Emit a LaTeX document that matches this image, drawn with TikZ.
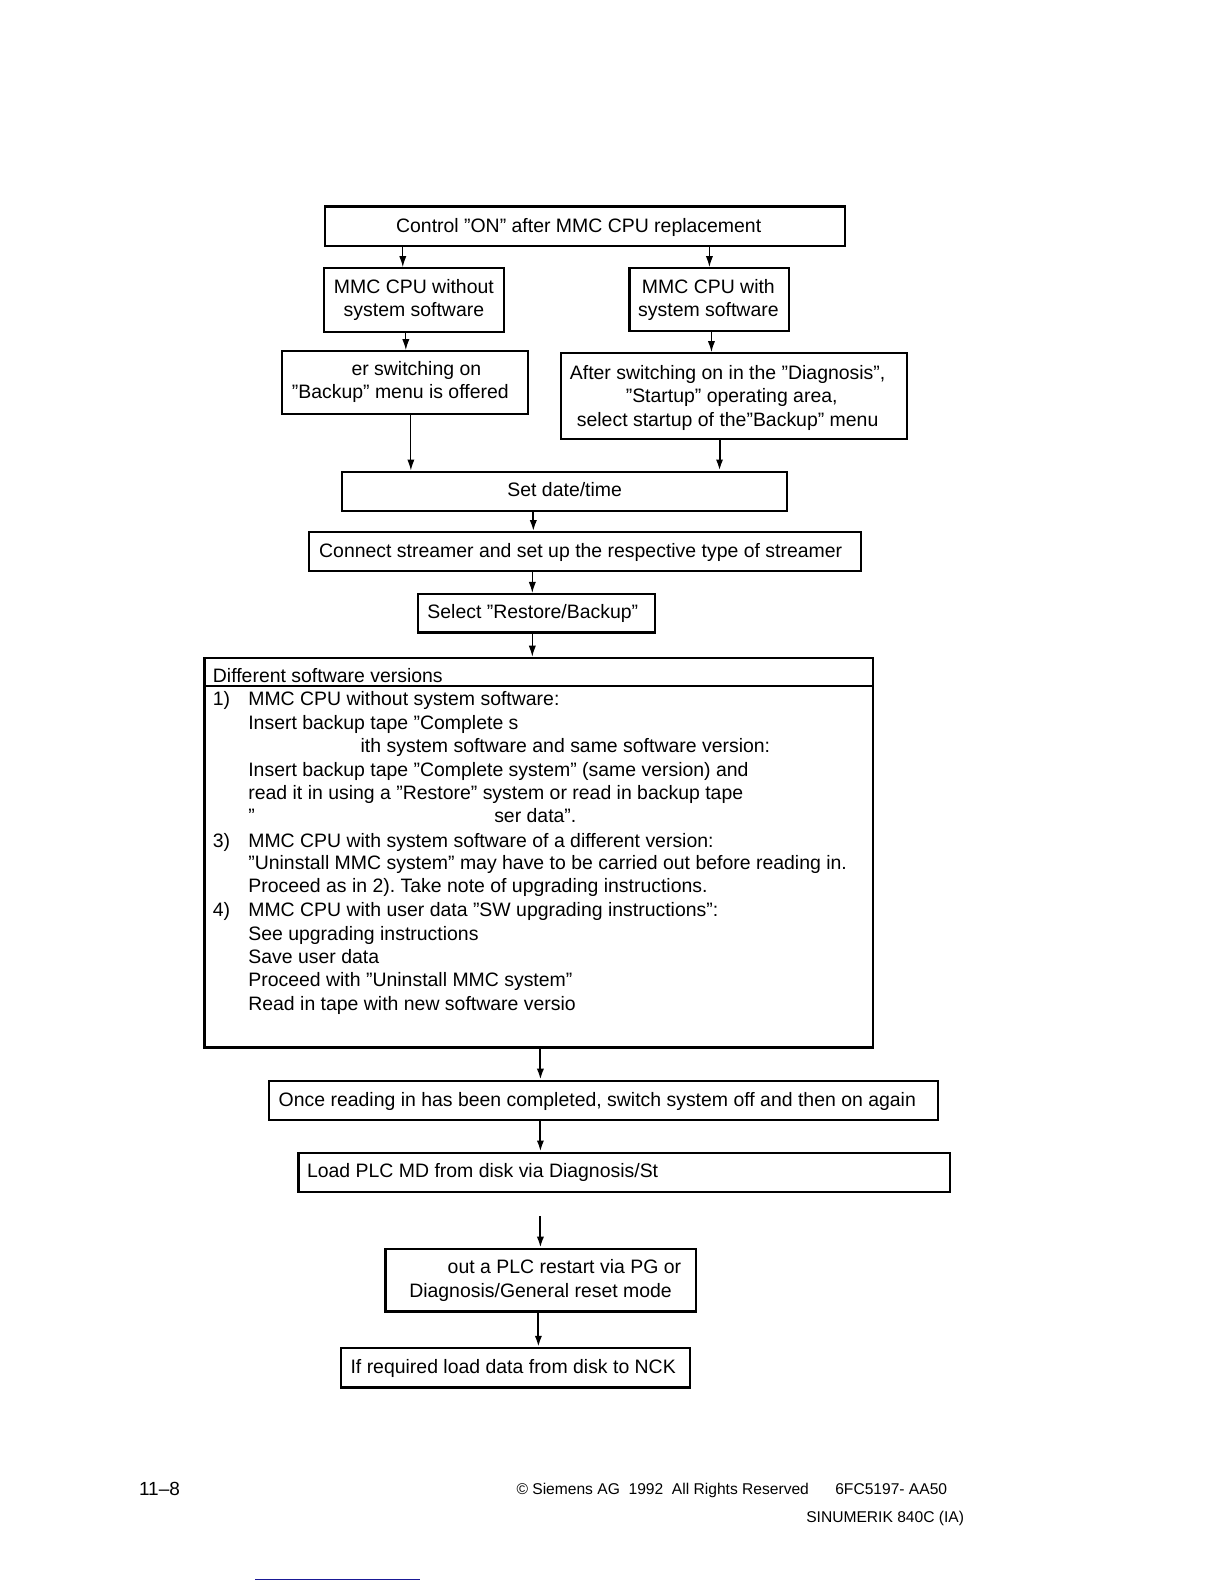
\documentclass[tikz,border=0pt]{standalone}
\usepackage{fontspec}
\setmainfont{Liberation Sans}
\usetikzlibrary{arrows.meta,fit}
\frenchspacing
\begin{document}
\begin{tikzpicture}[x=0.506pt,y=-0.506pt,
  box/.style={draw, line width=1.1pt, inner sep=0pt, rectangle},
  txt/.style={anchor=base west, inner sep=0pt, font=\fontsize{9.72}{11.6}\selectfont},
  ctxt/.style={anchor=base, inner sep=0pt, font=\fontsize{9.72}{11.6}\selectfont},
  foot/.style={anchor=base west, inner sep=0pt, font=\fontsize{7.8}{9}\selectfont},
  arr/.style={line width=0.6pt, -{Latex[length=5.5pt,width=3.6pt]}},
  arrb/.style={line width=1pt, -{Latex[length=5.5pt,width=3.6pt]}}]
\useasboundingbox (0,0) rectangle (1209.5,1565.2);
\fill[white] (0,0) rectangle (1209.5,1565.2);

% boxes
\node[box, fit={(321,204) (835,243)}] (b1) {};
\node[box, fit={(320,265) (498,328)}] (b2) {};
\node[box, fit={(622,265) (780,327)}] (b3) {};
\node[box, fit={(279,347) (522,409)}] (b4) {};
\node[box, fit={(554,349) (896,434)}] (b5) {};
\node[box, fit={(338,466) (778,505)}] (b6) {};
\node[box, fit={(305,526) (851,564)}] (b7) {};
\node[box, fit={(413,587) (647,625)}] (b8) {};
\node[box, fit={(202,650) (863,1035)}] (b9) {};
\node[box, fit={(266,1068) (927,1107)}] (b10) {};
\node[box, fit={(295,1139) (939,1178)}] (b11) {};
\node[box, fit={(381,1234) (688,1296)}] (b12) {};
\node[box, fit={(337,1332) (682,1371)}] (b13) {};
\coordinate (hl) at (0,678);
\draw[line width=1.1pt] (b9.west |- hl) -- (b9.east |- hl);

% texts
\node[txt] (t1) at (391,230) {Control ”ON” after MMC CPU replacement};
\node[ctxt] (t2a) at (409,290) {MMC CPU without};
\node[ctxt] (t2b) at (409,313) {system software};
\node[ctxt] (t3a) at (700,290) {MMC CPU with};
\node[ctxt] (t3b) at (700,313) {system software};
\node[txt] (t4a) at (347,371) {er switching on};
\node[txt] (t4b) at (288,394) {”Backup” menu is offered};
\node[ctxt] (t5a) at (719,375) {After switching on in the ”Diagnosis”,};
\node[ctxt] (t5b) at (723,398) {”Startup” operating area,};
\node[ctxt] (t5c) at (719,421) {select startup of the”Backup” menu};
\node[ctxt] (t6) at (558,491) {Set date/time};
\node[txt] (t7) at (315,551) {Connect streamer and set up the respective type of streamer};
\node[txt] (t8) at (422,611) {Select ”Restore/Backup”};
\node[txt] (t9h) at (210,674) {Different software versions};
\node[txt] (n1) at (210,697) {1)};
\node[txt] (l1) at (245,697) {MMC CPU without system software:};
\node[txt] (l2) at (245,721) {Insert backup tape ”Complete s};
\node[txt] (l3) at (356,744) {ith system software and same software version:};
\node[txt] (l4) at (245,767) {Insert backup tape ”Complete system” (same version) and};
\node[txt] (l5) at (245,790) {read it in using a ”Restore” system or read in backup tape};
\node[txt] (l6a) at (245,813) {”};
\node[txt] (l6b) at (488,813) {ser data”.};
\node[txt] (n3) at (210,837) {3)};
\node[txt] (l7) at (245,837) {MMC CPU with system software of a different version:};
\node[txt] (l8) at (245,859) {”Uninstall MMC system” may have to be carried out before reading in.};
\node[txt] (l9) at (245,882) {Proceed as in 2). Take note of upgrading instructions.};
\node[txt] (n4) at (210,906) {4)};
\node[txt] (l10) at (245,906) {MMC CPU with user data ”SW upgrading instructions”:};
\node[txt] (l11) at (245,929) {See upgrading instructions};
\node[txt] (l12) at (245,952) {Save user data};
\node[txt] (l13) at (245,975) {Proceed with ”Uninstall MMC system”};
\node[txt] (l14) at (245,998) {Read in tape with new software versio};
\node[txt] (t10) at (275,1093) {Once reading in has been completed, switch system off and then on again};
\node[txt] (t11) at (303,1164) {Load PLC MD from disk via Diagnosis/St};
\node[txt] (t12a) at (442,1258) {out a PLC restart via PG or};
\node[txt] (t12b) at (404,1282) {Diagnosis/General reset mode};
\node[txt] (t13) at (346,1357) {If required load data from disk to NCK};

% connectors
\draw[arr] (398,0 |- b1.south) -- (398,0 |- b2.north);
\draw[arr] (701,0 |- b1.south) -- (701,0 |- b3.north);
\draw[arr] (401,0 |- b2.south) -- (401,0 |- b4.north);
\draw[arr] (703,0 |- b3.south) -- (703,0 |- b5.north);
\draw[arr] (406,0 |- b4.south) -- (406,0 |- b6.north);
\draw[arrb] (711,0 |- b5.south) -- (711,0 |- b6.north);
\draw[arrb] (527,0 |- b6.south) -- (527,0 |- b7.north);
\draw[arr] (526,0 |- b7.south) -- (526,0 |- b8.north);
\draw[arr] (526,0 |- b8.south) -- (526,0 |- b9.north);
\draw[arrb] (534,0 |- b9.south) -- (534,0 |- b10.north);
\draw[arrb] (534,0 |- b10.south) -- (534,0 |- b11.north);
\coordinate (fs) at (534,1202);
\draw[arrb] (fs) -- (534,0 |- b12.north);
\draw[arrb] (532,0 |- b12.south) -- (532,0 |- b13.north);

% footer
\node[anchor=base west, inner sep=0pt, font=\fontsize{9.5}{11}\selectfont] (pg) at (137,1478) {11–8};
\node[foot] (cp) at (510,1477) {© Siemens AG\ \ 1992\ \ All Rights Reserved};
\node[foot] (id) at (825,1477) {6FC5197- AA50};
\node[foot, anchor=base east] (sn) at (953,1504) {SINUMERIK 840C (IA)};
\definecolor{linkblue}{RGB}{25,25,150}
\coordinate (bl1) at (252,1561);
\coordinate (bl2) at (415,1561);
\draw[linkblue, line width=0.7pt] (bl1) -- (bl2);
\end{tikzpicture}
\end{document}
